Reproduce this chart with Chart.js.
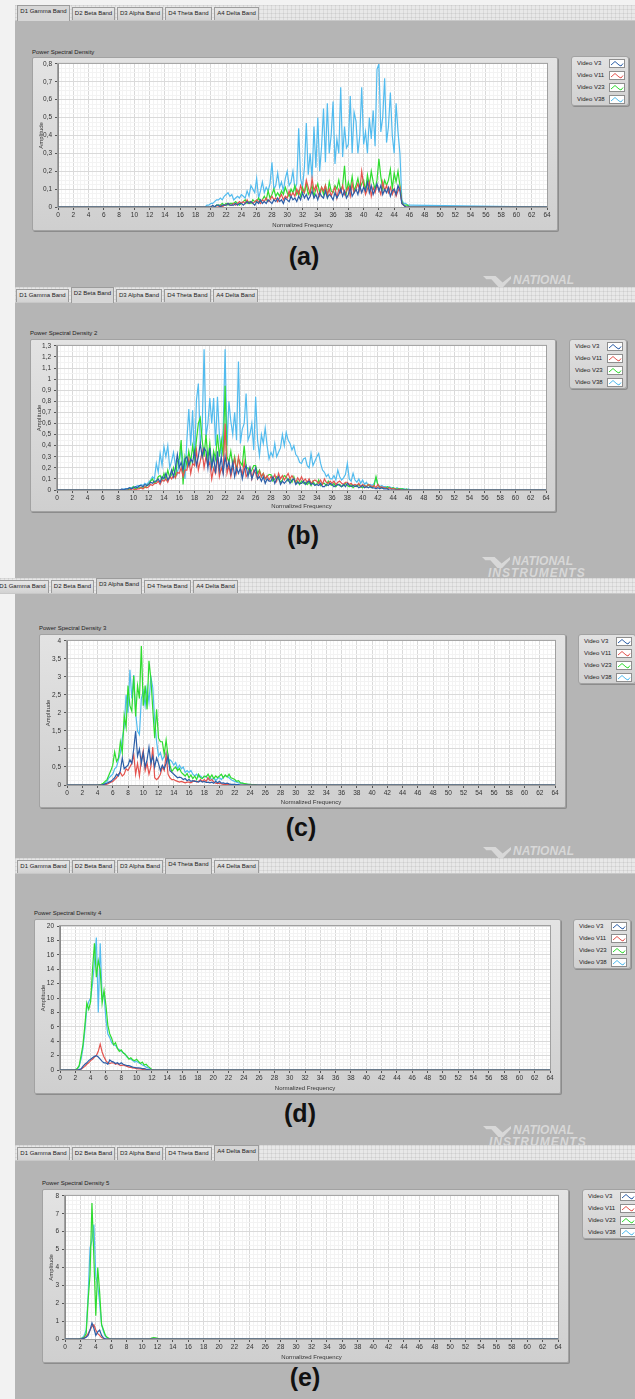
<!DOCTYPE html>
<html>
<head>
<meta charset="utf-8">
<script src="https://cdn.jsdelivr.net/npm/chart.js@4.4.1/dist/chart.umd.min.js"></script>
<style>
  html, body { margin: 0; padding: 0; }
  body { width: 635px; height: 1399px; position: relative; overflow: hidden; background: #f2f2f2; font-family: "Liberation Sans", Arial, sans-serif; }
  .gray { position: absolute; left: 15px; width: 620px; background: #b5b5b5; }
  .strip { position: absolute; height: 15px; right: 0; background-color: #e8e8e8;
    background-image: linear-gradient(90deg, rgba(0,0,0,.06) 1px, transparent 1px), linear-gradient(rgba(0,0,0,.06) 1px, transparent 1px);
    background-size: 4px 4px; border-bottom: 1px solid #c8c8c8; }
  .tab { position: absolute; top: 2px; height: 13px; box-sizing: border-box; background: linear-gradient(#e6e6e6, #d2d2d2);
    border: 1px solid #9c9c9c; border-bottom: none; font-size: 6px; line-height: 11px; text-align: center; color: #222; white-space: nowrap; overflow: hidden; }
  .tab.on { top: 0; height: 16px; background: #d6d6d6; z-index: 2; }
  .frame { position: absolute; box-sizing: border-box; background: linear-gradient(#e3e3e3, #cfcfcf); border: 1px solid #a2a2a2; border-radius: 2px; box-shadow: 1px 1px 0 #8c8c8c; }
  .ptitle { position: absolute; font-size: 6px; line-height: 8px; color: #222; white-space: nowrap; }
  .legend { position: absolute; width: 58px; height: 50px; box-sizing: border-box; background: linear-gradient(#e2e2e2, #d0d0d0); border: 1px solid #a2a2a2; border-radius: 3px; box-shadow: 1px 1px 0 #8c8c8c; }
  .lrow { position: absolute; left: 5px; font-size: 6px; line-height: 9px; color: #222; white-space: nowrap; }
  .licon { position: absolute; left: 37px; width: 16px; height: 9px; box-sizing: border-box; background: #fff; border: 1px solid #8e8e8e; }
  .licon svg { position: absolute; left: 0; top: 0; }
  .tag { position: absolute; font: bold 25px "Liberation Sans", Arial, sans-serif; color: #111; transform: translate(-50%, -50%); white-space: nowrap; }
  .mark { position: absolute; font: italic bold 12px "Liberation Sans", Arial, sans-serif; color: #d8d8d8; white-space: nowrap; }
  .logo { position: absolute; width: 28px; height: 11px; background: #d8d8d8; clip-path: polygon(0 0, 45% 0, 70% 60%, 100% 0, 100% 25%, 72% 100%, 55% 100%, 30% 30%, 12% 30%); }
</style>
</head>
<body>
<script>
const seriesNames = ['Video V3', 'Video V11', 'Video V23', 'Video V38'];
const seriesColors = ['#2b5ea8', '#e4534e', '#2fdc2f', '#52bbee'];
const tabNames = ['D1 Gamma Band', 'D2 Beta Band', 'D3 Alpha Band', 'D4 Theta Band', 'A4 Delta Band'];
const xTicks = { min: 0, max: 64, major: 2, minor: 0.5 };

function bins(from, to, step) {
  const out = [];
  for (let f = from; f <= to + 1e-9; f += step) out.push(+f.toFixed(2));
  return out;
}

// (a) gamma band
const freqA = [0, ...bins(19, 46, 0.25), 64];
const a_v38 = [0,
  0,0,0.01,0.01, 0.02,0.02,0.03,0.04, 0.04,0.05,0.04,0.06, 0.07,0.08,0.06,0.07,
  0.04,0.05,0.06,0.05, 0.07,0.06,0.05,0.09, 0.06,0.12,0.10,0.08, 0.16,0.05,0.09,0.14,
  0.08,0.11,0.09,0.13, 0.25,0.10,0.12,0.19, 0.11,0.14,0.09,0.16, 0.20,0.12,0.14,0.20,
  0.10,0.13,0.44,0.16, 0.11,0.22,0.47,0.18, 0.30,0.16,0.45,0.22, 0.50,0.20,0.34,0.55,
  0.25,0.58,0.30,0.40, 0.59,0.24,0.38,0.30, 0.67,0.28,0.45,0.33, 0.35,0.62,0.30,0.53,
  0.48,0.30,0.40,0.67, 0.35,0.42,0.30,0.50, 0.38,0.54,0.34,0.77, 0.80,0.42,0.50,0.72,
  0.36,0.45,0.64,0.40, 0.30,0.58,0.42,0.30, 0.04,0.02,0.02,0.01,
  0.01, 0];
const a_v23 = [0,
  0,0,0,0, 0,0,0,0.01, 0.01,0.01,0.02,0.01, 0.02,0.01,0.02,0.02,
  0.02,0.03,0.02,0.01, 0.02,0.03,0.04,0.02, 0.03,0.02,0.04,0.03, 0.03,0.05,0.03,0.04,
  0.06,0.04,0.09,0.05, 0.07,0.10,0.06,0.08, 0.06,0.09,0.07,0.11, 0.08,0.06,0.10,0.08,
  0.12,0.07,0.09,0.06, 0.11,0.08,0.13,0.07, 0.09,0.12,0.06,0.10, 0.13,0.08,0.11,0.07,
  0.12,0.06,0.14,0.09, 0.08,0.12,0.10,0.15, 0.09,0.12,0.23,0.08, 0.14,0.10,0.17,0.09,
  0.12,0.16,0.10,0.13, 0.15,0.09,0.18,0.12, 0.20,0.14,0.10,0.15, 0.27,0.17,0.10,0.15,
  0.12,0.15,0.21,0.10, 0.19,0.14,0.20,0.12, 0.03,0.01,0.01,0.01,
  0, 0];
const a_v11 = [0,
  0,0,0,0, 0,0,0,0, 0,0.01,0,0.01, 0.01,0.02,0.01,0.01,
  0.02,0.01,0.02,0.03, 0.02,0.03,0.02,0.04, 0.02,0.03,0.02,0.03, 0.04,0.03,0.02,0.04,
  0.03,0.05,0.03,0.04, 0.06,0.04,0.05,0.03, 0.05,0.07,0.04,0.06, 0.05,0.09,0.06,0.08,
  0.06,0.10,0.07,0.12, 0.09,0.08,0.15,0.11, 0.07,0.16,0.09,0.12, 0.08,0.06,0.11,0.09,
  0.12,0.07,0.10,0.06, 0.09,0.11,0.05,0.10, 0.08,0.12,0.07,0.09, 0.11,0.06,0.13,0.08,
  0.10,0.13,0.09,0.20, 0.12,0.07,0.10,0.14, 0.06,0.11,0.08,0.12, 0.10,0.07,0.14,0.09,
  0.12,0.08,0.11,0.07, 0.10,0.06,0.09,0.11, 0.02,0.01,0,0,
  0, 0];
const a_v3 = [0,
  0,0,0,0, 0,0.01,0,0.01, 0.01,0,0.01,0.01, 0.01,0.02,0.01,0.01,
  0.01,0.02,0.01,0.02, 0.02,0.01,0.02,0.03, 0.02,0.03,0.02,0.01, 0.03,0.02,0.04,0.02,
  0.03,0.02,0.04,0.03, 0.02,0.04,0.03,0.05, 0.03,0.04,0.02,0.05, 0.04,0.03,0.06,0.04,
  0.05,0.03,0.06,0.04, 0.08,0.05,0.07,0.04, 0.06,0.09,0.05,0.07, 0.04,0.08,0.06,0.05,
  0.09,0.05,0.07,0.06, 0.04,0.08,0.05,0.07, 0.10,0.06,0.09,0.05, 0.07,0.11,0.06,0.08,
  0.10,0.07,0.12,0.08, 0.11,0.09,0.14,0.08, 0.12,0.07,0.10,0.13, 0.09,0.12,0.07,0.10,
  0.08,0.11,0.06,0.09, 0.10,0.07,0.12,0.09, 0.02,0.01,0,0,
  0, 0];

// (b) beta band
const freqB = [0, ...bins(8, 48, 0.25), 64];
const b_v38 = [0,
  0,0,0,0.01, 0.01,0.01,0.02,0.02, 0.03,0.02,0.04,0.03, 0.05,0.04,0.06,0.05,
  0.07,0.09,0.12,0.10, 0.24,0.16,0.33,0.22, 0.39,0.30,0.40,0.20, 0.26,0.34,0.22,0.15,
  0.24,0.38,0.26,0.10, 0.45,0.73,0.40,0.72, 0.24,0.81,0.96,0.42, 0.55,1.27,0.48,0.60,
  0.83,0.60,0.83,0.40, 0.84,0.50,0.32,0.55, 1.27,0.40,0.80,0.62, 0.50,0.70,0.45,1.16,
  0.42,0.55,0.60,0.87, 0.45,0.50,0.60,0.36, 0.84,0.45,0.31,0.50, 0.42,0.56,0.40,0.28,
  0.34,0.30,0.42,0.30, 0.34,0.38,0.50,0.40, 0.52,0.45,0.42,0.36, 0.40,0.32,0.30,0.25,
  0.24,0.28,0.29,0.22, 0.20,0.33,0.22,0.26, 0.30,0.33,0.24,0.18, 0.16,0.12,0.14,0.10,
  0.10,0.13,0.09,0.18, 0.12,0.09,0.11,0.14, 0.24,0.10,0.08,0.15, 0.09,0.07,0.10,0.06,
  0.09,0.05,0.07,0.04, 0.05,0.04,0.06,0.11, 0.05,0.03,0.04,0.03, 0.03,0.02,0.03,0.02,
  0.02,0.01,0.02,0.01, 0.01,0.01,0.01,0, 0.01,0,0,0, 0,0,0,0,
  0, 0];
const b_v23 = [0,
  0,0,0,0, 0,0,0.01,0.01, 0.03,0.01,0.02,0.02, 0.02,0.03,0.02,0.04,
  0.05,0.08,0.10,0.06, 0.08,0.12,0.13,0.09, 0.15,0.10,0.18,0.11, 0.14,0.20,0.12,0.26,
  0.28,0.45,0.05,0.30, 0.22,0.35,0.25,0.40, 0.28,0.45,0.60,0.65, 0.45,0.30,0.50,0.28,
  0.42,0.20,0.35,0.28, 0.50,0.30,0.45,0.30, 0.94,0.30,0.25,0.35, 0.22,0.30,0.18,0.28,
  0.25,0.22,0.40,0.20, 0.20,0.15,0.18,0.22, 0.22,0.15,0.18,0.12, 0.15,0.10,0.12,0.14,
  0.14,0.08,0.10,0.12, 0.10,0.07,0.09,0.13, 0.12,0.08,0.10,0.07, 0.12,0.06,0.08,0.05,
  0.08,0.06,0.07,0.05, 0.07,0.04,0.08,0.05, 0.05,0.09,0.04,0.06, 0.06,0.04,0.08,0.05,
  0.04,0.06,0.03,0.05, 0.05,0.03,0.04,0.06, 0.04,0.03,0.05,0.02, 0.04,0.03,0.05,0.03,
  0.02,0.04,0.03,0.05, 0.03,0.02,0.04,0.12, 0.04,0.03,0.02,0.02, 0.02,0.03,0.02,0.01,
  0.02,0.01,0.01,0.01, 0.01,0.01,0,0.01, 0,0,0,0, 0,0,0,0,
  0, 0];
const b_v11 = [0,
  0,0,0,0, 0,0,0,0.01, 0.01,0,0.01,0.01, 0.02,0.01,0.03,0.02,
  0.03,0.05,0.04,0.06, 0.06,0.08,0.05,0.09, 0.08,0.10,0.07,0.12, 0.10,0.13,0.11,0.16,
  0.15,0.20,0.12,0.18, 0.18,0.28,0.15,0.24, 0.22,0.36,0.18,0.26, 0.35,0.20,0.30,0.22,
  0.25,0.10,0.20,0.15, 0.30,0.12,0.20,0.15, 0.60,0.15,0.22,0.12, 0.20,0.28,0.16,0.30,
  0.20,0.14,0.25,0.12, 0.15,0.20,0.10,0.18, 0.15,0.10,0.17,0.12, 0.15,0.10,0.13,0.09,
  0.12,0.10,0.14,0.08, 0.15,0.10,0.13,0.09, 0.12,0.15,0.10,0.13, 0.10,0.07,0.11,0.08,
  0.12,0.08,0.10,0.07, 0.10,0.06,0.08,0.09, 0.08,0.06,0.09,0.05, 0.10,0.07,0.06,0.08,
  0.06,0.08,0.05,0.07, 0.08,0.06,0.05,0.07, 0.07,0.05,0.06,0.04, 0.05,0.04,0.06,0.03,
  0.05,0.04,0.03,0.05, 0.04,0.03,0.04,0.02, 0.05,0.02,0.03,0.02, 0.02,0.01,0.02,0.01,
  0.01,0.01,0,0.01, 0,0,0,0, 0,0,0,0, 0,0,0,0,
  0, 0];
const b_v3 = [0,
  0,0,0.01,0, 0.01,0.01,0.02,0.01, 0.02,0.03,0.02,0.04, 0.04,0.03,0.05,0.04,
  0.05,0.07,0.06,0.08, 0.08,0.10,0.07,0.12, 0.10,0.15,0.09,0.12, 0.18,0.12,0.20,0.32,
  0.20,0.25,0.18,0.28, 0.30,0.22,0.28,0.25, 0.35,0.22,0.30,0.42, 0.30,0.38,0.35,0.20,
  0.38,0.20,0.30,0.15, 0.35,0.18,0.30,0.15, 0.30,0.20,0.26,0.15, 0.25,0.12,0.20,0.15,
  0.20,0.10,0.18,0.22, 0.12,0.20,0.10,0.15, 0.20,0.10,0.12,0.08, 0.12,0.06,0.10,0.08,
  0.08,0.12,0.06,0.10, 0.12,0.05,0.08,0.06, 0.08,0.10,0.06,0.09, 0.10,0.05,0.07,0.06,
  0.06,0.08,0.05,0.07, 0.08,0.05,0.06,0.04, 0.05,0.04,0.06,0.03, 0.03,0.05,0.04,0.06,
  0.05,0.03,0.04,0.05, 0.04,0.03,0.05,0.03, 0.06,0.04,0.03,0.04, 0.03,0.04,0.02,0.03,
  0.04,0.02,0.03,0.02, 0.03,0.02,0.02,0.01, 0.02,0.01,0.02,0.01, 0.01,0.01,0,0,
  0,0,0,0, 0,0,0,0, 0,0,0,0, 0,0,0,0,
  0, 0];

// (c) alpha band
const freqC = [0, ...bins(4, 25, 0.25), 64];
const c_v38 = [0,
  0,0,0.01,0.02, 0.05,0.10,0.20,0.25, 0.30,0.45,0.50,0.70, 0.90,1.30,1.60,2.50,
  2.00,3.20,2.40,3.05, 2.00,1.50,1.40,2.40, 2.60,2.20,2.70,2.30, 3.00,2.70,1.80,1.20,
  0.80,0.90,0.70,0.80, 0.90,0.60,0.70,0.65, 0.55,0.62,0.45,0.55, 0.45,0.50,0.35,0.40,
  0.35,0.40,0.30,0.25, 0.30,0.22,0.25,0.20, 0.22,0.25,0.15,0.18, 0.15,0.20,0.12,0.18,
  0.20,0.15,0.22,0.25, 0.25,0.20,0.15,0.12, 0.10,0.08,0.06,0.05, 0.05,0.03,0.02,0.02,
  0.01,0.01,0,0,
  0, 0];
const c_v23 = [0,
  0,0.01,0.02,0.05, 0.10,0.15,0.28,0.40, 0.55,0.92,0.65,0.75, 1.20,0.90,1.93,1.60,
  2.76,2.20,2.05,3.03, 1.90,2.76,2.40,3.86, 2.20,2.76,2.10,3.45, 2.95,2.10,1.30,2.10,
  1.30,1.20,1.20,0.85, 1.25,0.80,0.55,0.37, 0.45,0.50,0.40,0.46, 0.35,0.30,0.25,0.32,
  0.20,0.28,0.18,0.25, 0.15,0.30,0.20,0.18, 0.25,0.22,0.30,0.20, 0.28,0.18,0.25,0.20,
  0.25,0.30,0.20,0.28, 0.22,0.30,0.20,0.18, 0.15,0.10,0.12,0.06, 0.05,0.04,0.03,0.02,
  0.02,0.01,0.01,0.01,
  0, 0];
const c_v11 = [0,
  0,0,0,0, 0.01,0.02,0.05,0.08, 0.10,0.15,0.20,0.30, 0.35,0.25,0.30,0.45,
  0.40,0.50,0.60,0.85, 0.30,0.60,0.25,0.70, 0.95,0.40,0.60,0.30, 0.50,1.05,0.20,0.15,
  0.20,0.30,0.50,0.40, 0.85,0.30,0.20,0.15, 0.15,0.12,0.10,0.08, 0.10,0.08,0.06,0.08,
  0.08,0.06,0.10,0.12, 0.08,0.10,0.15,0.10, 0.15,0.10,0.20,0.12, 0.15,0.08,0.05,0.04,
  0.05,0.03,0.02,0.02, 0.02,0.01,0.01,0, 0,0,0,0, 0,0,0,0,
  0,0,0,0,
  0, 0];
const c_v3 = [0,
  0,0,0,0.01, 0.03,0.05,0.08,0.10, 0.15,0.20,0.30,0.25, 0.40,0.75,0.45,0.50,
  0.55,0.70,0.60,1.00, 1.50,0.80,1.00,0.60, 0.90,0.50,0.70,1.05, 0.60,0.80,0.50,0.75,
  0.60,0.40,0.55,0.45, 0.60,0.80,0.40,0.35, 0.30,0.25,0.20,0.22, 0.20,0.15,0.18,0.12,
  0.15,0.10,0.12,0.10, 0.10,0.08,0.12,0.08, 0.10,0.07,0.08,0.06, 0.08,0.05,0.10,0.06,
  0.10,0.05,0.06,0.04, 0.05,0.03,0.02,0.02, 0.02,0.01,0.01,0, 0,0,0,0,
  0,0,0,0,
  0, 0];

// (d) theta band
const freqD = [0, ...bins(2, 12.5, 0.25), 64];
const d_v38 = [0,
  0,0.10,0.50,1.50, 3.00,5.50,8.50,9.50, 10.0,12.0,15.0,18.4, 8.00,17.6,10.0,10.5,
  7.00,5.00,4.50,3.80, 3.50,3.40,3.00,2.80, 2.60,2.40,2.20,1.80, 1.60,1.50,1.30,1.10,
  1.20,1.00,0.90,0.70, 0.60,0.40,0.30,0.15,
  0.05,0.02,0, 0];
const d_v23 = [0,
  0,0.20,0.60,2.00, 3.50,6.20,9.30,8.40, 9.50,14.0,17.6,12.9, 15.2,13.9,9.30,11.1,
  9.00,6.20,5.00,4.40, 3.50,3.80,3.00,2.60, 2.80,2.40,2.20,1.90, 1.50,1.70,1.40,1.30,
  1.50,1.20,0.90,1.10, 0.70,0.80,0.50,0.30,
  0.05,0.02,0, 0];
const d_v11 = [0,
  0,0,0.05,0.10, 0.30,0.50,0.80,1.00, 1.30,1.50,1.80,2.00, 2.60,3.60,2.50,1.80,
  1.30,1.00,0.90,1.00, 1.00,0.80,0.90,0.70, 0.60,0.70,0.60,0.50, 0.40,0.35,0.30,0.25,
  0.20,0.15,0.15,0.10, 0.10,0.08,0.05,0.02,
  0,0,0, 0];
const d_v3 = [0,
  0,0,0.05,0.15, 0.50,0.80,1.00,1.30, 1.50,1.70,1.90,2.00, 1.80,1.50,1.20,1.00,
  1.00,0.80,1.40,1.20, 1.10,0.90,1.00,0.80, 1.00,0.80,0.70,0.60, 0.60,0.50,0.40,0.35,
  0.30,0.30,0.25,0.20, 0.20,0.10,0.05,0.02,
  0,0,0, 0];

// (e) delta band
const freqE = [0, ...bins(1.5, 13, 0.25), 64];
const e_v38 = [0,
  0,0,
  0.02,0.06,0.20,0.50, 2.40,5.10,5.50,6.40, 3.50,3.00,2.00,0.80, 0.40,0.15,0.05,0.01,
  0,0,0,0, 0,0,0,0, 0,0,0,0, 0,0,0,0, 0,0,0,0, 0,0,0,0, 0,0,0,0,
  0, 0];
const e_v23 = [0,
  0,0,
  0.02,0.05,0.10,0.30, 2.15,3.60,7.60,4.50, 1.30,4.00,2.60,0.80, 0.50,0.20,0.08,0.02,
  0,0,0,0, 0,0,0,0, 0,0,0,0, 0,0,0,0, 0,0,0,0, 0,0.05,0.08,0.07, 0.04,0.01,0,0,
  0, 0];
const e_v11 = [0,
  0,0,
  0,0.02,0.05,0.15, 0.30,0.50,0.70,0.80, 0.50,0.30,0.20,0.08, 0.03,0,0,0,
  0,0,0,0, 0,0,0,0, 0,0,0,0, 0,0,0,0, 0,0,0,0, 0,0,0,0, 0,0,0,0,
  0, 0];
const e_v3 = [0,
  0,0,
  0,0.02,0.05,0.10, 0.20,0.50,0.90,0.60, 0.20,0.40,0.50,0.20, 0.05,0.01,0,0,
  0,0,0,0, 0,0,0,0, 0,0,0,0, 0,0,0,0, 0,0,0,0, 0,0,0,0, 0,0,0,0,
  0, 0];

// ---- layout of the five LabVIEW panels (page pixels) ----
const panels = [
  { tag: '(a)', title: 'Power Spectral Density', active: 0, strip: 5, stripX: 15, tabX: 17, titleY: 48,
    frame: [32, 57, 558, 231], plot: [58, 63, 547, 207], legend: [571, 56], tagAt: [304, 256], mark: [483, 275, false],
    freq: freqA, series: [a_v3, a_v11, a_v23, a_v38], yMax: 0.8, yMajor: 0.1, yMinor: 0.025 },
  { tag: '(b)', title: 'Power Spectral Density 2', active: 1, strip: 287, stripX: 15, tabX: 16, titleY: 329,
    frame: [30, 339, 556, 512], plot: [57, 345, 546, 490], legend: [569, 339], tagAt: [303, 535], mark: [482, 556, true],
    freq: freqB, series: [b_v3, b_v11, b_v23, b_v38], yMax: 1.3, yMajor: 0.1, yMinor: 0.05 },
  { tag: '(c)', title: 'Power Spectral Density 3', active: 2, strip: 578, stripX: 0, tabX: -4, titleY: 624,
    frame: [39, 634, 566, 808], plot: [67, 640, 555, 785], legend: [578, 634], tagAt: [301, 827], mark: [483, 846, false],
    freq: freqC, series: [c_v3, c_v11, c_v23, c_v38], yMax: 4, yMajor: 0.5, yMinor: 0.125 },
  { tag: '(d)', title: 'Power Spectral Density 4', active: 3, strip: 858, stripX: 15, tabX: 17, titleY: 909,
    frame: [34, 919, 561, 1094], plot: [60, 926, 550, 1070], legend: [573, 919], tagAt: [300, 1113], mark: [483, 1125, true],
    freq: freqD, series: [d_v3, d_v11, d_v23, d_v38], yMax: 20, yMajor: 2, yMinor: 0.5 },
  { tag: '(e)', title: 'Power Spectral Density 5', active: 4, strip: 1145, stripX: 15, tabX: 17, titleY: 1179,
    frame: [42, 1189, 569, 1363], plot: [65, 1194, 558, 1339], legend: [582, 1189], tagAt: [305, 1377], mark: null,
    freq: freqE, series: [e_v3, e_v11, e_v23, e_v38], yMax: 8, yMajor: 1, yMinor: 0.25 }
];
const tabWidths = [53, 43, 46, 47, 45];

function el(cls, css, text) {
  const d = document.createElement('div');
  d.className = cls;
  Object.assign(d.style, css);
  if (text !== undefined) d.textContent = text;
  document.body.appendChild(d);
  return d;
}
const px = v => v + 'px';
const near = (v, step) => Math.abs(v / step - Math.round(v / step)) < 1e-6;
const fmt = v => String(Math.round(v * 1000) / 1000).replace('.', ',');

const plotBox = {
  id: 'plotBox',
  beforeDraw(ch) {
    const a = ch.chartArea, c = ch.ctx;
    c.save();
    c.fillStyle = '#ffffff';
    c.fillRect(a.left, a.top, a.right - a.left, a.bottom - a.top);
    c.restore();
  },
  afterDraw(ch) {
    const a = ch.chartArea, c = ch.ctx;
    c.save();
    c.strokeStyle = '#a0a0a0';
    c.lineWidth = 1;
    c.strokeRect(a.left - 0.5, a.top - 0.5, a.right - a.left + 1, a.bottom - a.top + 1);
    c.restore();
  }
};

function buildPanel(p, i) {
  const next = panels[i + 1];
  const grayTop = p.strip + 15;
  const grayBottom = next ? next.strip : 1399;
  el('gray', { top: px(grayTop), height: px(grayBottom - grayTop) });

  // tab strip
  const strip = el('strip', { left: px(p.stripX), top: px(p.strip) });
  let x = p.tabX - p.stripX;
  tabNames.forEach((n, k) => {
    const t = document.createElement('div');
    t.className = 'tab' + (k === p.active ? ' on' : '');
    t.style.left = px(x);
    t.style.width = px(tabWidths[k]);
    t.textContent = n;
    strip.appendChild(t);
    x += tabWidths[k] + 2;
  });

  // frame, title
  const [fl, ft, fr, fb] = p.frame;
  const [pl, pt, pr, pb] = p.plot;
  el('frame', { left: px(fl), top: px(ft), width: px(fr - fl), height: px(fb - ft) });
  el('ptitle', { left: px(fl), top: px(p.titleY) }, p.title);

  // legend
  const lg = el('legend', { left: px(p.legend[0]), top: px(p.legend[1]) });
  seriesNames.forEach((n, k) => {
    const r = document.createElement('div');
    r.className = 'lrow';
    r.style.top = px(1.5 + k * 12.3);
    r.textContent = n;
    lg.appendChild(r);
    const ic = document.createElement('div');
    ic.className = 'licon';
    ic.style.top = px(1.5 + k * 12.3);
    ic.innerHTML = '<svg width="14" height="7"><polyline points="1,5 5,1.5 9,5 11,6 13,3.5" fill="none" stroke="' +
      seriesColors[k] + '" stroke-width="1"/></svg>';
    lg.appendChild(ic);
  });

  // tag and watermark
  el('tag', { left: px(p.tagAt[0]), top: px(p.tagAt[1]) }, p.tag);
  if (p.mark) {
    const [mx, my, two] = p.mark;
    el('logo', { left: px(mx), top: px(my + 1) });
    el('mark', { left: px(mx + 30), top: px(my - 2) }, 'NATIONAL');
    if (two) el('mark', { left: px(mx + 6), top: px(my + 10), letterSpacing: '1px' }, 'INSTRUMENTS');
  }

  // chart
  const cv = document.createElement('canvas');
  cv.width = fr - fl;
  cv.height = fb - ft;
  Object.assign(cv.style, { position: 'absolute', left: px(fl), top: px(ft), width: px(fr - fl), height: px(fb - ft) });
  document.body.appendChild(cv);

  const tickFont = { family: '"Liberation Sans", Arial, sans-serif', size: 6.5 };
  const titleFont = { family: '"Liberation Sans", Arial, sans-serif', size: 6 };

  new Chart(cv, {
    type: 'line',
    data: {
      datasets: p.series.map((vals, k) => ({
        label: seriesNames[k],
        data: p.freq.map((f, j) => ({ x: f, y: vals[j] })),
        borderColor: seriesColors[k],
        borderWidth: 1.2,
        pointRadius: 0,
        tension: 0,
        fill: false
      }))
    },
    options: {
      responsive: false,
      animation: false,
      devicePixelRatio: 1,
      layout: { padding: { left: 0, top: pt - ft, right: fr - pr, bottom: 0 } },
      plugins: { legend: { display: false }, tooltip: { enabled: false } },
      scales: {
        x: {
          type: 'linear', min: xTicks.min, max: xTicks.max,
          afterFit: s => { s.height = fb - pb; },
          ticks: { stepSize: xTicks.minor, autoSkip: false, maxRotation: 0, padding: 1, color: '#333', font: tickFont,
            callback: v => near(v, xTicks.major) ? String(Math.round(v)) : '' },
          grid: { lineWidth: 1, tickLength: 3,
            color: c => c.tick && near(c.tick.value, xTicks.major) ? '#dadada' : '#f3f3f3',
            tickColor: c => c.tick && near(c.tick.value, xTicks.major) ? '#555' : 'rgba(0,0,0,0)' },
          border: { color: '#8a8a8a' },
          title: { display: true, text: 'Normalized Frequency', color: '#333', font: titleFont, padding: { top: 0, bottom: 2 } }
        },
        y: {
          type: 'linear', min: 0, max: p.yMax,
          afterFit: s => { s.width = pl - fl; },
          ticks: { stepSize: p.yMinor, autoSkip: false, padding: 3, color: '#333', font: tickFont,
            callback: v => near(v, p.yMajor) ? fmt(v) : '' },
          grid: { lineWidth: 1, tickLength: 3,
            color: c => c.tick && near(c.tick.value, p.yMajor) ? '#dadada' : '#f3f3f3',
            tickColor: c => c.tick && near(c.tick.value, p.yMajor) ? '#555' : 'rgba(0,0,0,0)' },
          border: { color: '#8a8a8a' },
          title: { display: true, text: 'Amplitude', color: '#333', font: titleFont, padding: { top: 6, bottom: 0 } }
        }
      }
    },
    plugins: [plotBox]
  });
}

panels.forEach(buildPanel);
</script>
</body>
</html>
